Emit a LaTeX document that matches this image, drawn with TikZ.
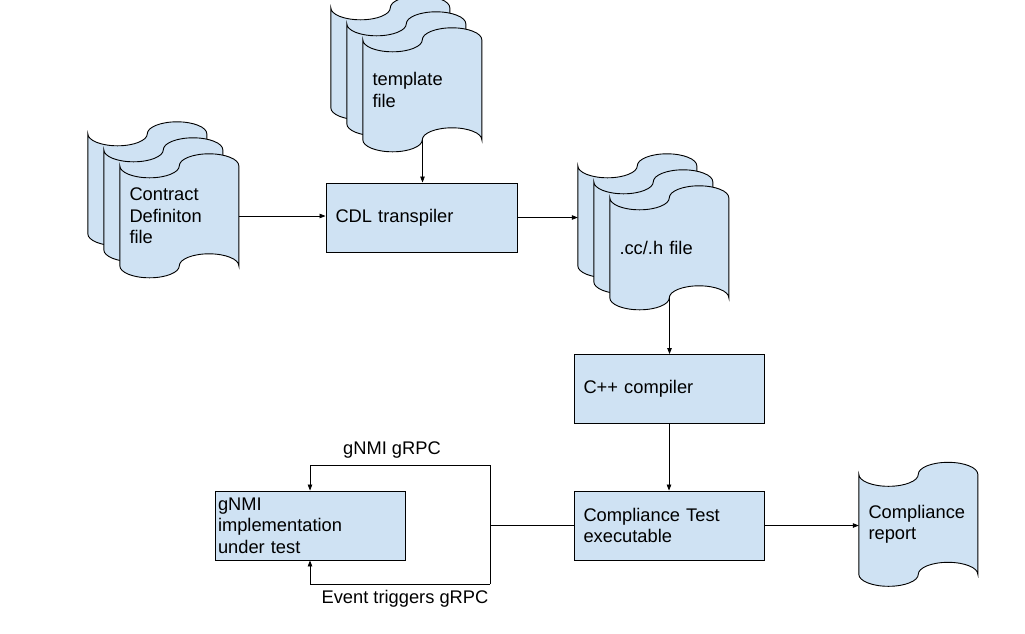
\documentclass[tikz,border=0pt]{standalone}
\usepackage{fontspec}
\setmainfont{Liberation Sans}
\usetikzlibrary{arrows.meta,backgrounds,calc}
\definecolor{docblue}{HTML}{CFE2F3}
% punched-tape sheet, 119 wide, baselines 100 apart, waves of 12 (half ellipses)
\newcommand\tapesheet[2]{%
  \begin{scope}[shift={(#1.north west)}]
  \begin{scope}[shift={(-#2,-#2)}]
    \path[tape] (0,0)
      .. controls (0,6.63) and (13.32,12) .. (29.75,12)
      .. controls (46.18,12) and (59.5,6.63) .. (59.5,0)
      .. controls (59.5,-6.63) and (72.82,-12) .. (89.25,-12)
      .. controls (105.68,-12) and (119,-6.63) .. (119,0)
      -- (119,100)
      .. controls (119,93.37) and (105.68,88) .. (89.25,88)
      .. controls (72.82,88) and (59.5,93.37) .. (59.5,100)
      .. controls (59.5,106.63) and (46.18,112) .. (29.75,112)
      .. controls (13.32,112) and (0,106.63) .. (0,100)
      -- cycle;
  \end{scope}
  \end{scope}}
\begin{document}
\begin{tikzpicture}[x=1pt,y=-1pt,
  every node/.style={font=\fontsize{18.3}{21.5}\selectfont},
  procbox/.style={draw=black, line width=0.9pt, fill=docblue, text width=171pt, inner xsep=9.5pt, inner ysep=0pt, minimum height=69pt, align=left},
  tapearea/.style={minimum width=119pt, minimum height=100pt, text width=100pt, inner xsep=9.5pt, inner ysep=0pt, align=left},
  tape/.style={draw=black, line width=0.9pt, fill=docblue},
  conn/.style={line width=0.8pt},
  arr/.style={conn, -{Triangle[length=6pt,width=4.5pt]}},
  lbl/.style={inner sep=0pt, anchor=base}]
\useasboundingbox (0,0) rectangle (1025,633);

% sheet areas (text only; sheets drawn behind)
\node[tapearea] (cd) at (179.5,216) {Contract\\Definiton\\file};
\node[tapearea] (tf) at (422.5,90) {template\\file};
\node[tapearea] (cc) at (669.5,248) {.cc/.h file};
\node[tapearea] (cr) at (918.5,524.5) {Compliance\\report};

% process boxes
\node[procbox, text width=172pt] (cdl) at (421.5,217.5) {CDL transpiler};
\node[procbox] (cpp) at (669,389) {C++ compiler};
\node[procbox] (ct) at (669,525.5) {Compliance Test\\executable};
\node[procbox, text width=184pt, inner xsep=3pt] (gn) at (310,525.5) {gNMI\\implementation\\under test};

\begin{scope}[on background layer]
  \tapesheet{cd}{32}\tapesheet{cd}{16}\tapesheet{cd}{0}
  \tapesheet{tf}{32}\tapesheet{tf}{16}\tapesheet{tf}{0}
  \tapesheet{cc}{32}\tapesheet{cc}{16}\tapesheet{cc}{0}
  \tapesheet{cr}{0}
\end{scope}

\coordinate (ccback) at ($(cc.west)+(-32,0)$);
\coordinate (loopTop) at (490,465);
\coordinate (loopBot) at (490,584);

\draw[arr] (cd.east) -- (cd.east -| cdl.west);
\draw[arr] (tf.south) -- (tf.south |- cdl.north);
\draw[arr] (cdl.east) -- (cdl.east -| ccback);
\draw[arr] (cc.south) -- (cc.south |- cpp.north);
\draw[arr] (cpp.south) -- (ct.north);
\draw[arr] (ct.east) -- (ct.east -| cr.west);
\draw[conn] (ct.west) -- (ct.west -| loopTop);
\draw[conn] (loopTop) -- (loopBot);
\draw[arr] (loopTop) -| (gn.north);
\draw[arr] (loopBot) -| (gn.south);

\node[lbl] (lg) at (392,454) {gNMI gRPC};
\node[lbl] (le) at (405,603) {Event triggers gRPC};
\end{tikzpicture}
\end{document}
